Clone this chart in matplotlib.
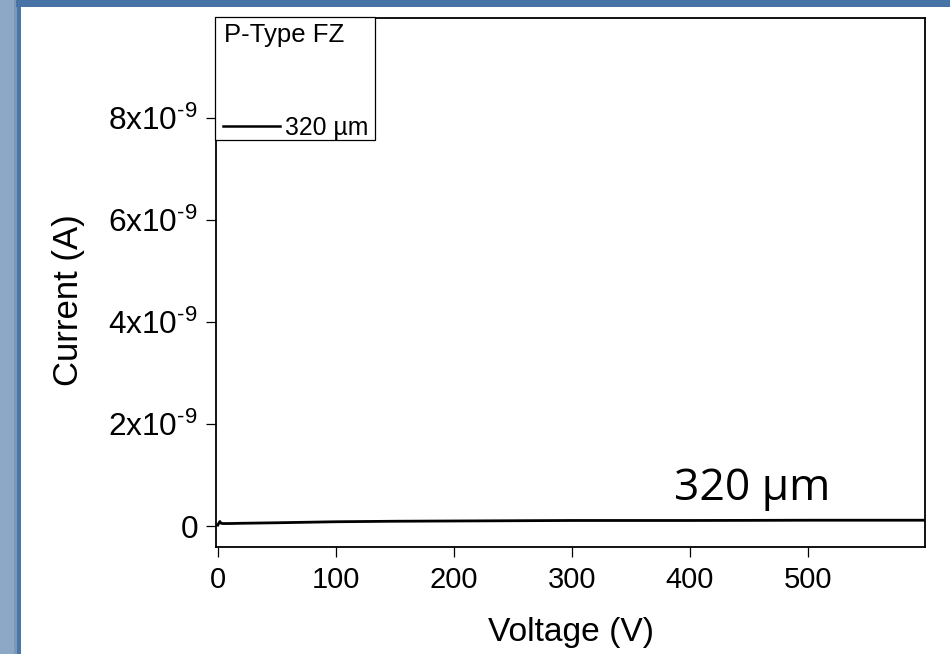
import matplotlib
matplotlib.use("Agg")
import matplotlib.pyplot as plt
from matplotlib.patches import Rectangle
from matplotlib.lines import Line2D
from matplotlib.ticker import FixedLocator, FuncFormatter

# I-V measurement, P-type FZ sensor, 320 um thick
voltage = [0, 1, 1.8, 2.5, 4, 6, 10, 20, 50, 100, 150, 200, 250, 300,
           350, 400, 450, 500, 550, 600]
current_nA = [0.02, 0.06, 0.09, 0.06, 0.05, 0.05, 0.05, 0.055, 0.065, 0.085,
              0.095, 0.10, 0.105, 0.11, 0.11, 0.11, 0.112, 0.115, 0.115, 0.115]
current = [c * 1e-9 for c in current_nA]

x_ticks = [0, 100, 200, 300, 400, 500]
y_ticks_n = [0, 2, 4, 6, 8]
series_label = "320 \u00b5m"
legend_title = "P-Type FZ"
annotation = "320 \u03bcm"

plt.rcParams["font.family"] = ["Liberation Sans", "DejaVu Sans"]
plt.rcParams["mathtext.fontset"] = "custom"
plt.rcParams["mathtext.rm"] = "Liberation Sans"

W, H = 950, 654
fig = plt.figure(figsize=(W / 100, H / 100), dpi=100)
fig.patch.set_facecolor("white")


def frac(x, y):
    """pixel (from top-left) -> figure fraction"""
    return x / W, 1 - y / H


def add_rect(x0, y0, x1, y1, color, **kw):
    fx0, fy1 = frac(x0, y1)
    r = Rectangle((fx0, fy1), (x1 - x0) / W, (y1 - y0) / H,
                  transform=fig.transFigure, facecolor=color,
                  edgecolor="none", **kw)
    fig.add_artist(r)
    return r


# slide frame
add_rect(0, 0, 14, H, "#8da8c7", zorder=0)
add_rect(14, 0, 17, H, "#7d97b6", zorder=0)
add_rect(17, 0, 21, H, "#4a76a8", zorder=0)
add_rect(16, 0, W, 7, "#4773a6", zorder=0)

ax_l, ax_r, ax_t, ax_b = 216, 925, 18, 547
ax = fig.add_axes([ax_l / W, 1 - ax_b / H, (ax_r - ax_l) / W, (ax_b - ax_t) / H])

ax.plot(voltage, current, color="black", lw=2.0, solid_joinstyle="round")

ax.set_xlim(-1.5, 599)
ax.set_ylim(-0.41e-9, 9.96e-9)

ax.xaxis.set_major_locator(FixedLocator(x_ticks))
ax.yaxis.set_major_locator(FixedLocator([v * 1e-9 for v in y_ticks_n]))


def fmt_y(v, pos):
    n = round(v * 1e9)
    if n == 0:
        return "0"
    # hyphen-style exponent sign (U+2010)
    return "$\\mathregular{%dx10^{\u20109}}$" % n


ax.yaxis.set_major_formatter(FuncFormatter(fmt_y))
ax.tick_params(axis="both", direction="out", length=7.5, width=0.9,
               top=False, right=False)
ax.tick_params(axis="x", pad=6, labelsize=21)
ax.tick_params(axis="y", pad=5.5, labelsize=22.8)
for s in ax.spines.values():
    s.set_linewidth(1.3)

ax.set_xlabel("Voltage (V)", fontsize=24.2)
ax.set_ylabel("Current (A)", fontsize=25)
ax.xaxis.set_label_coords(0.5, -0.132)
ax.yaxis.set_label_coords(-0.185, 0.467)

ax.text(453, 0.51e-9, annotation, fontsize=32, family=["Open Sans", "DejaVu Sans"],
        ha="center", va="baseline")

# legend box
lx0, ly0, lx1, ly1 = 215, 17, 375, 140
fx0, fy0 = frac(lx0, ly1)
fig.add_artist(Rectangle((fx0, fy0), (lx1 - lx0) / W, (ly1 - ly0) / H,
                         transform=fig.transFigure, facecolor="white",
                         edgecolor="black", lw=0.9, zorder=5))
tx, ty = frac(224, 42)
fig.text(tx, ty, legend_title, fontsize=18.5, ha="left", va="baseline", zorder=6)
a0 = frac(223, 126)
a1 = frac(280, 126)
fig.add_artist(Line2D([a0[0], a1[0]], [a0[1], a1[1]], transform=fig.transFigure,
                      color="black", lw=1.8, zorder=6))
sx, sy = frac(285, 135)
fig.text(sx, sy, series_label, fontsize=17.8, ha="left", va="baseline", zorder=6)

fig.savefig("out.png", dpi=100)
